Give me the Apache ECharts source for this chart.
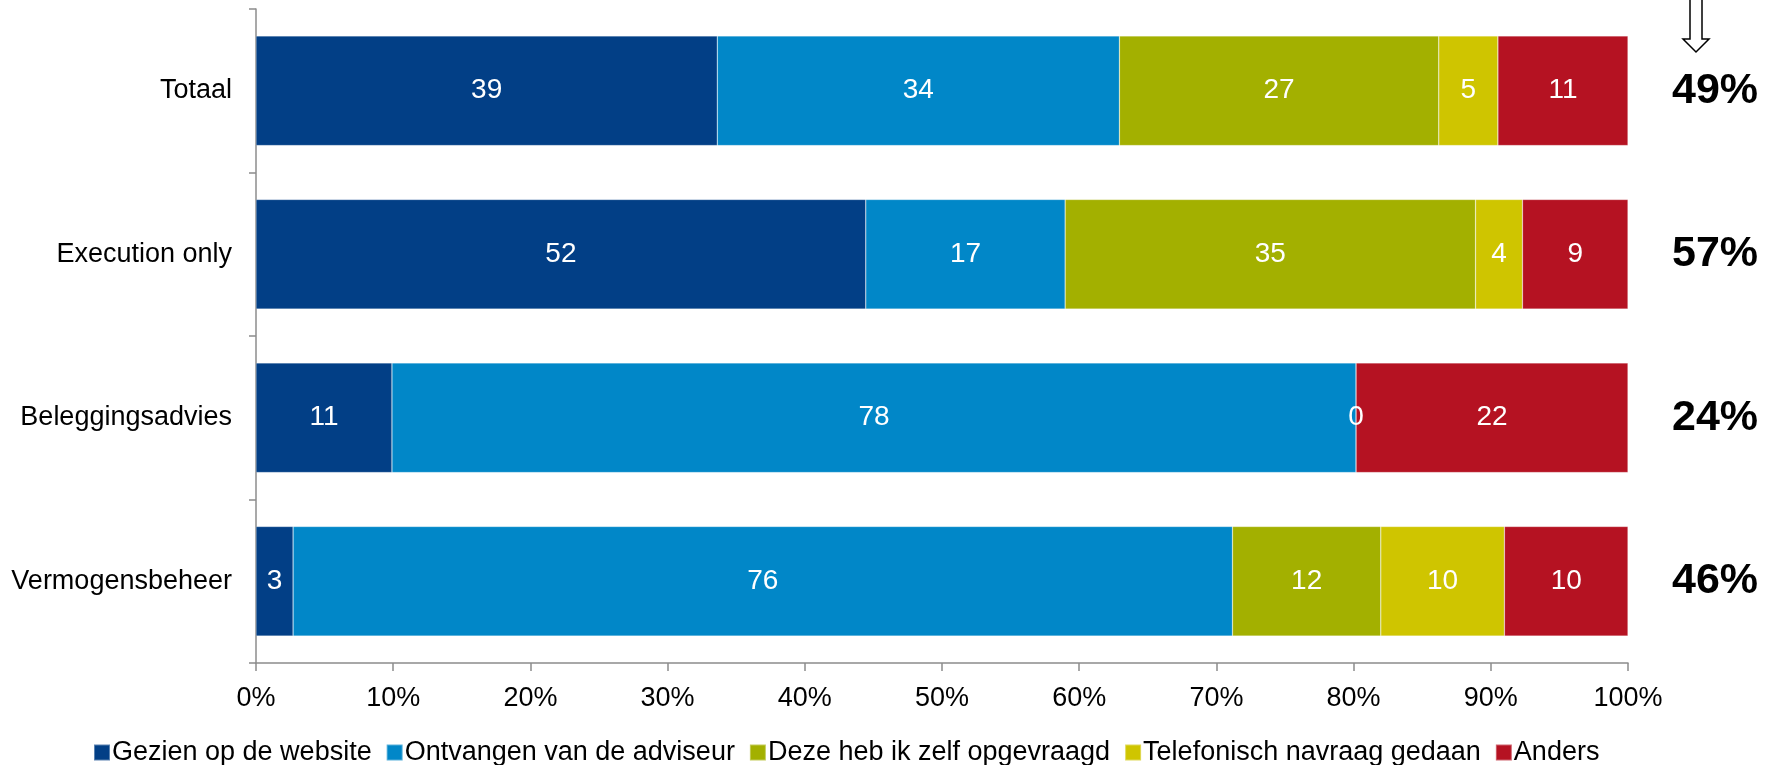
<!DOCTYPE html>
<html>
<head>
<meta charset="utf-8">
<script src="https://cdn.jsdelivr.net/npm/echarts@6/dist/echarts.min.js"></script>
<style>
html,body{margin:0;padding:0;background:#fff;}
#chart{width:1773px;height:765px;}
</style>
</head>
<body>
<div id="chart"></div>
<script>
const categories = ['Totaal', 'Execution only', 'Beleggingsadvies', 'Vermogensbeheer'];
const totals = ['49%', '57%', '24%', '46%'];
const seriesNames = ['Gezien op de website', 'Ontvangen van de adviseur', 'Deze heb ik zelf opgevraagd', 'Telefonisch navraag gedaan', 'Anders'];
const gezien = [39, 52, 11, 3];
const ontvangen = [34, 17, 78, 76];
const zelf = [27, 35, 0, 12];
const telefonisch = [5, 4, null, 10];
const anders = [11, 9, 22, 10];
const xTicks = [0, 10, 20, 30, 40, 50, 60, 70, 80, 90, 100];
const colors = ['#023f86', '#0187c8', '#a3b000', '#cfc500', '#b51222'];

const raw = [gezien, ontvangen, zelf, telefonisch, anders];
const sums = categories.map((c, i) => raw.reduce((s, arr) => s + (arr[i] || 0), 0));

const FONT = '"Liberation Sans", Arial, sans-serif';

const series = raw.map((arr, si) => ({
  name: seriesNames[si],
  type: 'bar',
  stack: 'total',
  barCategoryGap: '33%',
  itemStyle: { color: colors[si], borderColor: 'rgba(255,255,255,0.35)', borderWidth: 0.6 },
  label: {
    show: true,
    position: 'inside',
    color: '#fff',
    fontSize: 28,
    fontFamily: FONT,
    formatter: p => (arr[p.dataIndex] === null ? '' : String(arr[p.dataIndex]))
  },
  emphasis: { disabled: true },
  data: arr.map((v, i) => (v === null ? null : v / sums[i] * 100))
}));

const chart = echarts.init(document.getElementById('chart'));
chart.setOption({
  animation: false,
  backgroundColor: '#fff',
  textStyle: { fontFamily: FONT },
  grid: { left: 256, right: 145, top: 9, bottom: 102, containLabel: false },
  legend: {
    data: seriesNames,
    left: 88,
    top: 734,
    icon: 'rect',
    itemWidth: 16,
    itemHeight: 16,
    itemGap: 14,
    textStyle: { fontSize: 27, color: '#000', fontFamily: FONT, padding: [0, 0, 0, -3] }
  },
  xAxis: {
    type: 'value',
    min: xTicks[0],
    max: xTicks[xTicks.length - 1],
    interval: 10,
    axisLine: { show: true, lineStyle: { color: '#8c8c8c', width: 1.5 } },
    axisTick: { show: true, length: 8, lineStyle: { color: '#8c8c8c', width: 1.5 } },
    splitLine: { show: false },
    axisLabel: { formatter: '{value}%', fontSize: 27, color: '#000', margin: 22, fontFamily: FONT }
  },
  yAxis: [{
    type: 'category',
    data: categories,
    inverse: true,
    axisLine: { show: true, lineStyle: { color: '#8c8c8c', width: 1.5 } },
    axisTick: { show: true, length: 7, alignWithLabel: false, lineStyle: { color: '#8c8c8c', width: 1.5 } },
    axisLabel: { fontSize: 27, color: '#000', margin: 24, fontFamily: FONT, padding: [5, 0, 0, 0] }
  }, {
    type: 'category',
    data: totals,
    inverse: true,
    position: 'right',
    axisLine: { show: false },
    axisTick: { show: false },
    axisLabel: { fontSize: 43, fontWeight: 'bold', color: '#000', margin: 44, fontFamily: FONT, padding: [4, 0, 0, 0] }
  }],
  series: series,
  graphic: [{
    type: 'polygon',
    shape: { points: [[1690, -2], [1702, -2], [1702, 39], [1709, 39], [1696, 52], [1683, 39], [1690, 39]] },
    style: { fill: '#fff', stroke: '#000', lineWidth: 1.5 }
  }]
});
</script>
</body>
</html>
